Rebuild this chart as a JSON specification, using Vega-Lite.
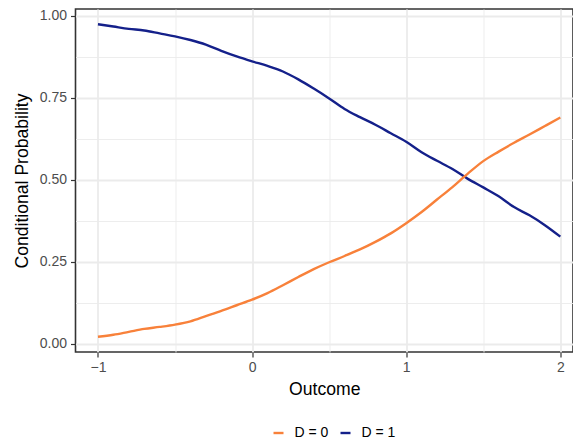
{
  "$schema": "https://vega.github.io/schema/vega-lite/v6.json",
  "width": 497.5,
  "height": 343,
  "autosize": "none",
  "padding": {"left": 75.5, "top": 9, "right": 0, "bottom": 88},
  "background": "white",
  "config": {
    "view": {"stroke": "#333333", "strokeWidth": 1.6},
    "font": "Liberation Sans",
    "axis": {
      "domain": false,
      "gridColor": "#ebebeb",
      "tickColor": "#333333",
      "tickWidth": 1.2,
      "tickSize": 5,
      "labelColor": "#4d4d4d",
      "labelFontSize": 14,
      "labelFont": "Liberation Sans",
      "titleFont": "Liberation Sans",
      "titleFontSize": 17.6,
      "titleFontWeight": "normal",
      "titleColor": "#000000"
    }
  },
  "data": {
    "values": [
      {"x": -1.0, "D": "D = 1", "p": 0.974},
      {"x": -0.9, "D": "D = 1", "p": 0.967},
      {"x": -0.8, "D": "D = 1", "p": 0.960},
      {"x": -0.7, "D": "D = 1", "p": 0.955},
      {"x": -0.6, "D": "D = 1", "p": 0.946},
      {"x": -0.5, "D": "D = 1", "p": 0.937},
      {"x": -0.4, "D": "D = 1", "p": 0.926},
      {"x": -0.3, "D": "D = 1", "p": 0.912},
      {"x": -0.2, "D": "D = 1", "p": 0.893},
      {"x": -0.1, "D": "D = 1", "p": 0.876},
      {"x": 0.0, "D": "D = 1", "p": 0.861},
      {"x": 0.1, "D": "D = 1", "p": 0.847},
      {"x": 0.2, "D": "D = 1", "p": 0.830},
      {"x": 0.3, "D": "D = 1", "p": 0.806},
      {"x": 0.4, "D": "D = 1", "p": 0.778},
      {"x": 0.5, "D": "D = 1", "p": 0.748},
      {"x": 0.6, "D": "D = 1", "p": 0.716},
      {"x": 0.7, "D": "D = 1", "p": 0.691},
      {"x": 0.8, "D": "D = 1", "p": 0.668},
      {"x": 0.9, "D": "D = 1", "p": 0.642},
      {"x": 1.0, "D": "D = 1", "p": 0.616},
      {"x": 1.1, "D": "D = 1", "p": 0.584},
      {"x": 1.2, "D": "D = 1", "p": 0.558},
      {"x": 1.3, "D": "D = 1", "p": 0.533},
      {"x": 1.4, "D": "D = 1", "p": 0.503},
      {"x": 1.5, "D": "D = 1", "p": 0.477},
      {"x": 1.6, "D": "D = 1", "p": 0.450},
      {"x": 1.7, "D": "D = 1", "p": 0.417},
      {"x": 1.8, "D": "D = 1", "p": 0.392},
      {"x": 1.9, "D": "D = 1", "p": 0.362},
      {"x": 2.0, "D": "D = 1", "p": 0.327},
      {"x": -1.0, "D": "D = 0", "p": 0.022},
      {"x": -0.9, "D": "D = 0", "p": 0.028},
      {"x": -0.8, "D": "D = 0", "p": 0.037},
      {"x": -0.7, "D": "D = 0", "p": 0.046},
      {"x": -0.6, "D": "D = 0", "p": 0.052},
      {"x": -0.5, "D": "D = 0", "p": 0.059},
      {"x": -0.4, "D": "D = 0", "p": 0.069},
      {"x": -0.3, "D": "D = 0", "p": 0.085},
      {"x": -0.2, "D": "D = 0", "p": 0.101},
      {"x": -0.1, "D": "D = 0", "p": 0.118},
      {"x": 0.0, "D": "D = 0", "p": 0.135},
      {"x": 0.1, "D": "D = 0", "p": 0.155},
      {"x": 0.2, "D": "D = 0", "p": 0.179},
      {"x": 0.3, "D": "D = 0", "p": 0.204},
      {"x": 0.4, "D": "D = 0", "p": 0.228},
      {"x": 0.5, "D": "D = 0", "p": 0.249},
      {"x": 0.6, "D": "D = 0", "p": 0.268},
      {"x": 0.7, "D": "D = 0", "p": 0.288},
      {"x": 0.8, "D": "D = 0", "p": 0.311},
      {"x": 0.9, "D": "D = 0", "p": 0.337},
      {"x": 1.0, "D": "D = 0", "p": 0.368},
      {"x": 1.1, "D": "D = 0", "p": 0.402},
      {"x": 1.2, "D": "D = 0", "p": 0.440},
      {"x": 1.3, "D": "D = 0", "p": 0.478},
      {"x": 1.4, "D": "D = 0", "p": 0.519},
      {"x": 1.5, "D": "D = 0", "p": 0.557},
      {"x": 1.6, "D": "D = 0", "p": 0.586},
      {"x": 1.7, "D": "D = 0", "p": 0.613},
      {"x": 1.8, "D": "D = 0", "p": 0.638},
      {"x": 1.9, "D": "D = 0", "p": 0.664},
      {"x": 2.0, "D": "D = 0", "p": 0.690}
    ]
  },
  "mark": {"type": "line", "strokeWidth": 2.4, "interpolate": "monotone"},
  "encoding": {
    "x": {
      "field": "x",
      "type": "quantitative",
      "title": "Outcome",
      "scale": {"domain": [-1.1458, 2.0823], "nice": false, "zero": false},
      "axis": {
        "values": [-1, -0.5, 0, 0.5, 1, 1.5, 2],
        "labelExpr": "datum.value % 1 != 0 ? '' : (datum.value < 0 ? '\u2212' + abs(datum.value) : '' + datum.value)",
        "tickOpacity": {"condition": {"test": "datum.value % 1 != 0", "value": 0}, "value": 1},
        "gridWidth": {"condition": {"test": "datum.value % 1 != 0", "value": 0.9}, "value": 1.8},
        "labelPadding": 3,
        "titlePadding": 6
      }
    },
    "y": {
      "field": "p",
      "type": "quantitative",
      "title": "Conditional Probability",
      "scale": {"domain": [-0.0244, 1.0204], "nice": false, "zero": false},
      "axis": {
        "values": [0, 0.125, 0.25, 0.375, 0.5, 0.625, 0.75, 0.875, 1],
        "labelExpr": "(datum.value * 4) % 1 != 0 ? '' : format(datum.value, '.2f')",
        "tickOpacity": {"condition": {"test": "(datum.value * 4) % 1 != 0", "value": 0}, "value": 1},
        "gridWidth": {"condition": {"test": "(datum.value * 4) % 1 != 0", "value": 0.9}, "value": 1.8},
        "labelPadding": 4,
        "titlePadding": 8
      }
    },
    "color": {
      "field": "D",
      "type": "nominal",
      "title": null,
      "scale": {"domain": ["D = 0", "D = 1"], "range": ["#F8813A", "#14208A"]},
      "legend": {
        "orient": "none",
        "direction": "horizontal",
        "legendX": 196,
        "legendY": 417,
        "symbolType": "stroke",
        "symbolSize": 100,
        "symbolStrokeWidth": 2.4,
        "labelFontSize": 14,
        "labelColor": "#000000",
        "labelOffset": 9,
        "columnPadding": 7,
        "padding": 0
      }
    }
  }
}
